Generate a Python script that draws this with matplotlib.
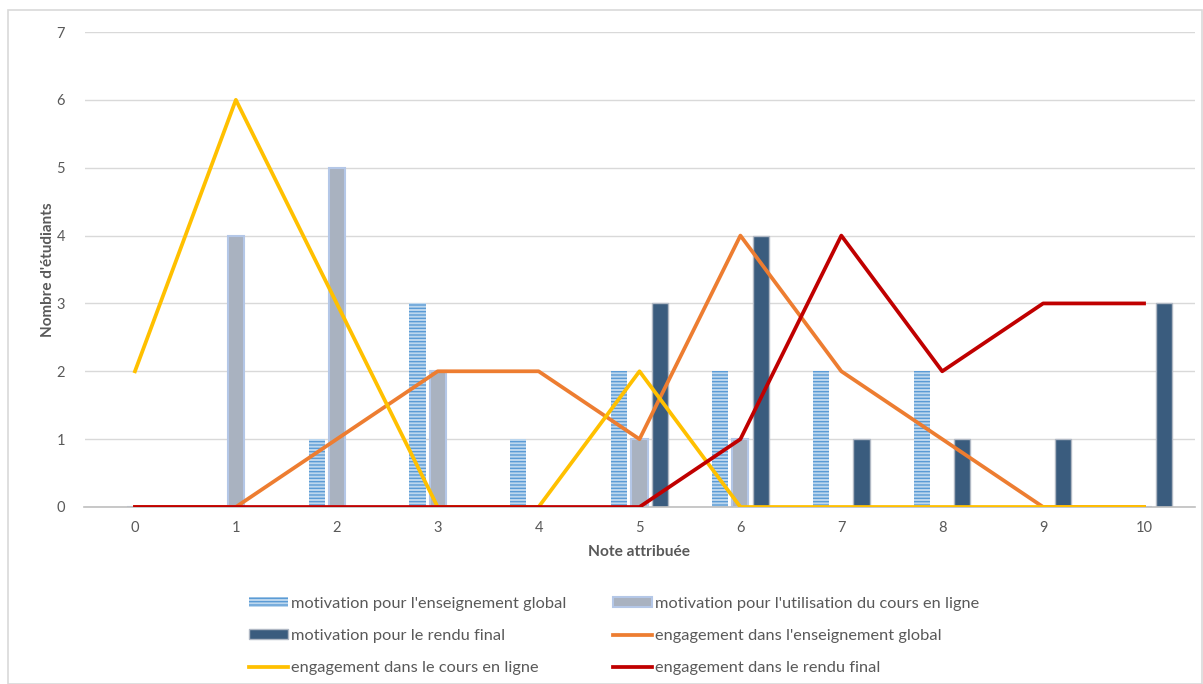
import matplotlib
matplotlib.use("Agg")
import matplotlib.pyplot as plt
import numpy as np
from matplotlib.patches import Rectangle

notes = list(range(11))
tick_labels = [str(n) for n in notes]

motiv_global = [0, 0, 1, 3, 1, 2, 2, 2, 2, 0, 0]
motiv_online = [0, 4, 5, 2, 0, 1, 1, 0, 0, 0, 0]
motiv_final = [0, 0, 0, 0, 0, 3, 4, 1, 1, 1, 3]
engag_global = [0, 0, 1, 2, 2, 1, 4, 2, 1, 0, 0]
engag_online = [2, 6, 3, 0, 0, 2, 0, 0, 0, 0, 0]
engag_final = [0, 0, 0, 0, 0, 0, 1, 4, 2, 3, 3]

plt.rcParams['font.family'] = ['Lato', 'DejaVu Sans']
plt.rcParams['hatch.linewidth'] = 1.0
txt = '#595959'

fig = plt.figure(figsize=(12.03, 6.84), dpi=100)
fig.patches.append(Rectangle((8/1203, 0), 1 - 8/1203 - 0.0005, 1 - 10/684, transform=fig.transFigure,
                             fill=False, edgecolor='#D9D9D9', linewidth=1.2))
ax = fig.add_axes([84.5/1203, 1 - 507/684, 1110/1203, 475/684])

x = np.array(notes)
w = 0.16
b1 = ax.bar(x - 0.2, motiv_global, w, facecolor='#BDD7EE', edgecolor='#5B9BD5', hatch='-----',
            linewidth=0, zorder=2, label="motivation pour l'enseignement global")
b2 = ax.bar(x, motiv_online, w, facecolor='#A9B2C0', edgecolor='#B4C7E7', linewidth=1.5,
            zorder=2, label="motivation pour l'utilisation du cours en ligne")
b3 = ax.bar(x + 0.2, motiv_final, w, facecolor='#3A5C7E', edgecolor='#B0B8C4', linewidth=1.0,
            zorder=2, label="motivation pour le rendu final")
l1, = ax.plot(x, engag_global, color='#ED7D31', lw=2.7, zorder=3, label="engagement dans l'enseignement global")
l2, = ax.plot(x, engag_online, color='#FFC000', lw=2.7, zorder=4, label="engagement dans le cours en ligne")
l3, = ax.plot(x, engag_final, color='#C00000', lw=2.7, zorder=5, label="engagement dans le rendu final")

ax.set_xlim(-0.5, 10.5)
ax.set_ylim(0, 7)
ax.set_xticks(x)
ax.set_xticklabels(tick_labels)
ax.set_yticks(range(8))
ax.tick_params(length=0, labelsize=10.5, colors=txt)
ax.tick_params(axis='y', pad=14)
ax.tick_params(axis='x', pad=10)
ax.grid(axis='y', color='#D9D9D9', lw=1, zorder=0)
ax.set_axisbelow(True)
for s in ['top', 'right', 'left']:
    ax.spines[s].set_visible(False)
ax.spines['bottom'].set_color('#BFBFBF')
ax.spines['bottom'].set_linewidth(1.2)

ax.set_xlabel("Note attribuée", fontsize=11.2, fontweight='bold', color=txt, labelpad=7)
ax.set_ylabel("Nombre d'étudiants", fontsize=11, fontweight='bold', color=txt, labelpad=1)

handles = [b1, b3, l2, b2, l1, l3]
fig.legend(handles=handles, labels=[h.get_label() for h in handles], ncol=2, frameon=False,
           loc='center', bbox_to_anchor=(614/1203, 1 - 636/684), fontsize=11.8, labelcolor=txt,
           handlelength=2.4, handleheight=0.6, handletextpad=0.2, columnspacing=2.8, labelspacing=1.12)

fig.savefig('out.png', dpi=100)
